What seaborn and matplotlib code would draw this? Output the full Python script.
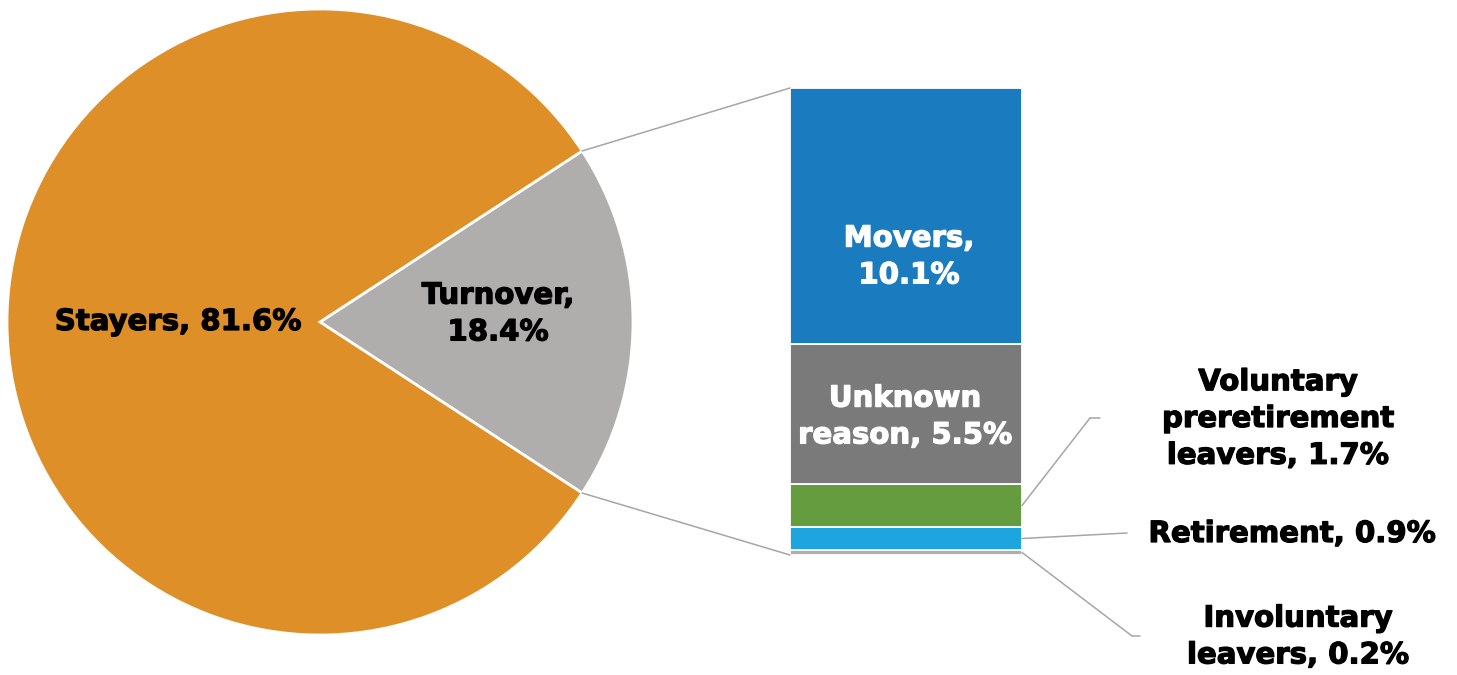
import matplotlib
matplotlib.use("Agg")
import matplotlib.pyplot as plt
import matplotlib.patheffects as pe
import seaborn as sns
import numpy as np
from matplotlib.patches import ConnectionPatch
from matplotlib.lines import Line2D

# pie data
pie_labels = ["Turnover", "Stayers"]
pie_values = [18.4, 81.6]
pie_colors = ["#B0ADAD", "#DF8F27"]

# breakdown of turnover, bottom to top
bar_labels = ["Involuntary leavers", "Retirement", "Voluntary preretirement leavers",
              "Unknown reason", "Movers"]
bar_values = [0.2, 0.9, 1.7, 5.5, 10.1]
bar_colors = ["#B0ADAD", "#1EA5DF", "#669C40", "#7A7A7A", "#1B7BBF"]

W, H = 1457, 675
LINE = "#A6A6A6"

sns.set_theme(style="white")
plt.rcParams["font.family"] = ["DejaVu Sans"]

fig = plt.figure(figsize=(W / 100, H / 100), dpi=100)


def fx(px):
    return px / W


def fy(py):
    return 1 - py / H


def label(px, py, text, color="black", size=21):
    fig.text(fx(px), fy(py), text, ha="center", va="center", color=color,
             fontsize=size, fontweight="bold", linespacing=1.4,
             path_effects=[pe.withStroke(linewidth=0.9, foreground=color)])


# pie
ax1 = fig.add_axes([fx(7), fy(635), fx(626), 626 / H])
half = pie_values[0] / 100 * 360 / 2
ax1.pie(pie_values, colors=pie_colors, startangle=-half, counterclock=True,
        wedgeprops=dict(edgecolor="white", linewidth=2), radius=1)
ax1.set_xlim(-1, 1)
ax1.set_ylim(-1, 1)
ax1.set_aspect("equal")
ax1.axis("off")

# stacked bar
ax2 = fig.add_axes([fx(790), fy(555), fx(232), 467 / H])
bottoms = np.concatenate([[0], np.cumsum(bar_values)[:-1]])
for v, b, c in zip(bar_values, bottoms, bar_colors):
    ax2.bar(0.5, v, bottom=b, width=1, color=c, edgecolor="white", linewidth=1.3)
ax2.set_xlim(0, 1)
ax2.set_ylim(0, sum(bar_values))
ax2.axis("off")

# connectors pie -> bar
total = sum(bar_values)
for ang, ybar in [(half, total), (-half, 0)]:
    a = np.deg2rad(ang)
    con = ConnectionPatch(xyA=(np.cos(a), np.sin(a)), coordsA=ax1.transData,
                          xyB=(0, ybar), coordsB=ax2.transData,
                          color=LINE, lw=1.1)
    fig.add_artist(con)

# leader lines from small segments
centers = bottoms + np.array(bar_values) / 2
leaders = [
    (centers[2], [(1090, 418), (1100, 418)]),
    (centers[1], [(1127, 533)]),
    (centers[0], [(1132, 636), (1140, 636)]),
]
for yc, pts in leaders:
    con = ConnectionPatch(xyA=(1, yc), coordsA=ax2.transData,
                          xyB=(fx(pts[0][0]), fy(pts[0][1])), coordsB=fig.transFigure,
                          color=LINE, lw=1.1)
    fig.add_artist(con)
    if len(pts) > 1:
        fig.add_artist(Line2D([fx(pts[0][0]), fx(pts[1][0])],
                              [fy(pts[0][1]), fy(pts[1][1])],
                              transform=fig.transFigure, color=LINE, lw=1.1))

# labels
label(178, 322, "Stayers, 81.6%")
label(498, 314, "Turnover,\n18.4%")
label(909, 257, "Movers,\n10.1%", color="white")
label(905, 417, "Unknown\nreason, 5.5%", color="white")
label(1278, 419, "Voluntary\npreretirement\nleavers, 1.7%")
label(1292, 534, "Retirement, 0.9%")
label(1298, 637, "Involuntary\nleavers, 0.2%")

fig.savefig("out.png", dpi=100, facecolor="white")
